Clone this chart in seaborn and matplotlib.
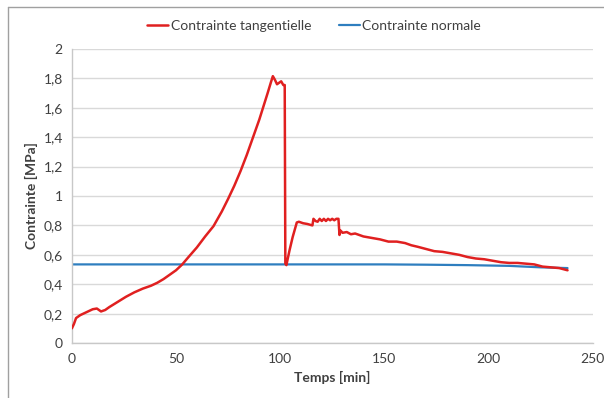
import numpy as np
import pandas as pd
import seaborn as sns
import matplotlib.pyplot as plt
from matplotlib.ticker import MultipleLocator, FuncFormatter
from matplotlib.lines import Line2D

# --- data ---
t_tang = [0, 1, 2, 4, 7, 10, 12, 14, 16, 18, 22, 26, 30, 34, 38, 41, 44, 47, 50, 53,
          56, 60, 64, 68, 72, 75, 78, 81, 84, 87, 90, 92, 94, 95.5, 96.5, 97.5, 98.5,
          99.5, 100.5, 101.5, 102.2, 102.5, 103, 104.5, 106, 108, 109, 111, 113, 115.5,
          116, 117, 118, 119, 120, 121, 122, 123, 124, 125, 126, 127, 128, 128.5, 129,
          130, 132, 134, 136, 140, 144, 148, 152, 156, 160, 163, 166, 170, 174, 178,
          182, 186, 190, 194, 198, 202, 206, 210, 214, 218, 222, 226, 230, 234, 238]
c_tang = [0.10, 0.13, 0.17, 0.19, 0.21, 0.23, 0.235, 0.215, 0.225, 0.245, 0.28, 0.315,
          0.345, 0.37, 0.39, 0.41, 0.435, 0.465, 0.495, 0.535, 0.585, 0.65, 0.725, 0.795,
          0.895, 0.98, 1.07, 1.17, 1.28, 1.40, 1.52, 1.61, 1.70, 1.77, 1.815, 1.79, 1.76,
          1.77, 1.78, 1.755, 1.755, 0.54, 0.53, 0.63, 0.72, 0.82, 0.825, 0.815, 0.81,
          0.80, 0.845, 0.83, 0.825, 0.845, 0.83, 0.845, 0.83, 0.845, 0.835, 0.845,
          0.835, 0.845, 0.845, 0.735, 0.765, 0.75, 0.755, 0.74, 0.745, 0.725, 0.715,
          0.705, 0.69, 0.69, 0.68, 0.665, 0.655, 0.64, 0.625, 0.62, 0.61, 0.60, 0.585,
          0.575, 0.57, 0.56, 0.55, 0.545, 0.545, 0.54, 0.535, 0.52, 0.515, 0.51, 0.495]

t_norm = [0, 50, 100, 150, 170, 190, 210, 225, 238]
c_norm = [0.535, 0.535, 0.535, 0.535, 0.533, 0.53, 0.525, 0.515, 0.51]

red = '#E02020'
blue = '#2E7EBF'

sns.set_style('white')
plt.rcParams['font.family'] = ['Lato', 'DejaVu Sans']

fig = plt.figure(figsize=(6.04, 3.98), dpi=100)
ax = fig.add_axes([0.119, 0.138, 0.862, 0.739])

sns.lineplot(x=t_norm, y=c_norm, ax=ax, color=blue, lw=1.6, sort=False,
             estimator=None, label='Contrainte normale', zorder=2)
sns.lineplot(x=t_tang, y=c_tang, ax=ax, color=red, lw=1.8, sort=False,
             estimator=None, label='Contrainte tangentielle', zorder=3)

ax.set_xlim(0, 250)
ax.set_ylim(0, 2)
ax.xaxis.set_major_locator(MultipleLocator(50))
ax.xaxis.set_minor_locator(MultipleLocator(10))
ax.yaxis.set_major_locator(MultipleLocator(0.2))
ax.yaxis.set_minor_locator(MultipleLocator(0.04))
ax.yaxis.set_major_formatter(FuncFormatter(lambda v, p: f'{v:.1f}'.rstrip('0').rstrip('.').replace('.', ',')))
ax.grid(axis='y', color='#D9D9D9', lw=1)
ax.set_axisbelow(True)

for s in ['top', 'right']:
    ax.spines[s].set_visible(False)
for s in ['left', 'bottom']:
    ax.spines[s].set_color('#C8C8C8')
    ax.spines[s].set_linewidth(1)
ax.tick_params(axis='both', which='both', colors='#C8C8C8', labelcolor='#404040', labelsize=10)
ax.tick_params(axis='y', which='major', direction='inout', length=6)
ax.tick_params(axis='y', which='minor', direction='out', length=3)
ax.tick_params(axis='x', which='both', direction='out', length=4)

ax.set_xlabel('Temps [min]', fontsize=10, fontweight='bold', color='#404040')
ax.set_ylabel('Contrainte [MPa]', fontsize=10, fontweight='bold', color='#404040')

h, l = ax.get_legend_handles_labels()
ax.legend(h[::-1], l[::-1], loc='center', bbox_to_anchor=(0.52, 0.935),
          bbox_transform=fig.transFigure, ncol=2, frameon=False, fontsize=10,
          handlelength=1.5, handletextpad=0.2, columnspacing=2.0, labelcolor='#404040')

# outer chart frame (top and left edges visible)
fig.add_artist(Line2D([0.014, 1.0], [0.982, 0.982], transform=fig.transFigure, color='#A0A0A0', lw=1))
fig.add_artist(Line2D([0.014, 0.014], [0.0, 0.982], transform=fig.transFigure, color='#A0A0A0', lw=1))

fig.savefig('out.png', dpi=100)
